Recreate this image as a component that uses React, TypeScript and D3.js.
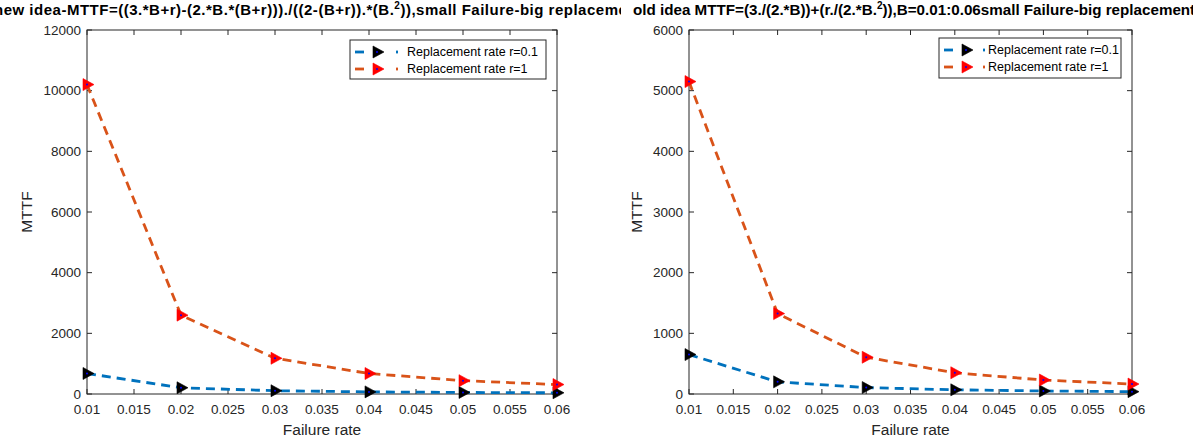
import React from 'react'
import * as d3 from 'd3'

const failureRate = [0.01, 0.02, 0.03, 0.04, 0.05, 0.06]
const newIdeaR01 = [676, 206, 108, 70, 51, 39]
const newIdeaR1 = [10200, 2600, 1178, 675, 440, 311]
const oldIdeaR01 = [650, 200, 106, 69, 50, 39]
const oldIdeaR1 = [5150, 1325, 606, 350, 230, 164]
const xTicks = [0.01, 0.015, 0.02, 0.025, 0.03, 0.035, 0.04, 0.045, 0.05, 0.055, 0.06]
const newYTicks = [0, 2000, 4000, 6000, 8000, 10000, 12000]
const oldYTicks = [0, 1000, 2000, 3000, 4000, 5000, 6000]
const seriesNames = ['Replacement rate r=0.1', 'Replacement rate r=1']

const W = 1193, H = 441
const top = 30, bottom = 394
const FONT = "'Liberation Sans', Arial, sans-serif"
const INK = '#262626'
const lineColors = ['#0072BD', '#D95319']
const markerFill = ['#000000', '#ff0000']
const tri = 'M-4,-6L-4,6L7,0Z'

function Marker({ x, y, fill }) {
    return (
        <g transform={`translate(${x},${y})`}>
            <path d={tri} fill={fill} stroke={fill} strokeWidth={0.6} />
            <circle r={1} fill="#0000ff" />
        </g>
    )
}

function Panel({ left, right, yMax, yTicks, series, legend, ylabelX }) {
    const x = d3.scaleLinear().domain([0.01, 0.06]).range([left, right])
    const y = d3.scaleLinear().domain([0, yMax]).range([bottom, top])
    const line = d3.line<number>().x((_d, i) => x(failureRate[i])).y(d => y(d))
    const tl = 5

    return (
        <g fontFamily={FONT}>
            {/* ticks */}
            {xTicks.map(t => (
                <g key={'x' + t} stroke={INK} strokeWidth={1}>
                    <line x1={x(t)} x2={x(t)} y1={bottom} y2={bottom - tl} />
                    <line x1={x(t)} x2={x(t)} y1={top} y2={top + tl} />
                </g>
            ))}
            {yTicks.map(t => (
                <g key={'y' + t} stroke={INK} strokeWidth={1}>
                    <line x1={left} x2={left + tl} y1={y(t)} y2={y(t)} />
                    <line x1={right} x2={right - tl} y1={y(t)} y2={y(t)} />
                </g>
            ))}
            <rect x={left} y={top} width={right - left} height={bottom - top} fill="none" stroke={INK} strokeWidth={1} />
            {xTicks.map(t => (
                <text key={'xl' + t} x={x(t)} y={414} textAnchor="middle" fontSize={13.5} fill={INK}>{String(t)}</text>
            ))}
            {yTicks.map(t => (
                <text key={'yl' + t} x={left - 6} y={y(t)} dy="0.35em" textAnchor="end" fontSize={13.5} fill={INK}>{String(t)}</text>
            ))}
            <text x={(left + right) / 2} y={435} textAnchor="middle" fontSize={15.5} fill={INK}>Failure rate</text>
            <text transform={`translate(${ylabelX},${(top + bottom) / 2}) rotate(-90)`} textAnchor="middle" fontSize={15.5} fill={INK}>MTTF</text>

            {series.map((s, k) => (
                <g key={'s' + k}>
                    <path d={line(s)} fill="none" stroke={lineColors[k]} strokeWidth={2.8} strokeDasharray="9,6" />
                    {s.map((v, i) => <Marker key={i} x={x(failureRate[i])} y={y(v)} fill={markerFill[k]} />)}
                </g>
            ))}

            {/* legend */}
            <rect x={legend.x} y={legend.y} width={legend.w} height={legend.h} fill="#fff" stroke={INK} strokeWidth={1} />
            {seriesNames.map((n, k) => {
                const ry = legend.y + 12 + k * 17
                const lx = legend.x + 5
                return (
                    <g key={'lg' + k}>
                        <line x1={lx} x2={lx + 9} y1={ry} y2={ry} stroke={lineColors[k]} strokeWidth={2.8} />
                        <Marker x={lx + 22} y={ry} fill={markerFill[k]} />
                        <rect x={lx + legend.dot} y={ry - 1.4} width={2} height={2.8} fill={lineColors[k]} />
                        <text x={lx + legend.text} y={ry} dy="0.35em" fontSize={12.5} fill="#000">{n}</text>
                    </g>
                )
            })}
        </g>
    )
}

export default function App() {
    return (
        <svg width={W} height={H} style={{ position: 'absolute', left: 0, top: 0, background: '#fff' }}>
            <rect width={W} height={H} fill="#fff" />
            <defs>
                <clipPath id="leftTitleClip"><rect x={0} y={0} width={621} height={30} /></clipPath>
            </defs>
            <g clipPath="url(#leftTitleClip)">
                <text x={-6} y={15} textLength={648} lengthAdjust="spacing" fontFamily={FONT} fontWeight="bold" fontSize={15} fill="#000">
                    new idea-MTTF=((3.*B+r)-(2.*B.*(B+r)))./((2-(B+r)).*(B.<tspan dy={-6} fontSize={10}>2</tspan><tspan dy={6}>)),small Failure-big replacement</tspan>
                </text>
            </g>
            <text x={633} y={15} fontFamily={FONT} fontWeight="bold" fontSize={15.2} fill="#000">
                old idea MTTF=(3./(2.*B))+(r./(2.*B.<tspan dy={-6} fontSize={10}>2</tspan><tspan dy={6}>)),B=0.01:0.06small Failure-big replacement</tspan>
            </text>
            <Panel left={87} right={557} yMax={12000} yTicks={newYTicks} series={[newIdeaR01, newIdeaR1]}
                legend={{ x: 350, y: 40, w: 196, h: 39, dot: 41, text: 52 }} ylabelX={32} />
            <Panel left={689} right={1132} yMax={6000} yTicks={oldYTicks} series={[oldIdeaR01, oldIdeaR1]}
                legend={{ x: 939, y: 38, w: 182, h: 40, dot: 39, text: 44 }} ylabelX={642} />
        </svg>
    )
}
